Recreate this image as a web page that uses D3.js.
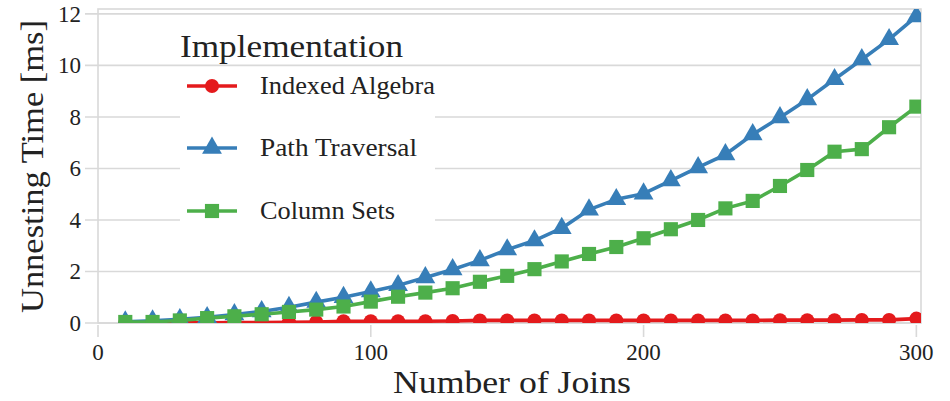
<!DOCTYPE html>
<html>
  <head>
    <!-- load the d3 javascript library -->
    <script src="https://d3js.org/d3.v7.min.js"></script>
    <style>
      body { margin: 0; background: #fff; }
      text { font-family: "Liberation Serif", "DejaVu Serif", serif; fill: #222; }
    </style>
  </head>
  <body>
    <script>

    // number of joins (x values)
    var joins = [10, 20, 30, 40, 50, 60, 70, 80, 90, 100,
                 110, 120, 130, 140, 150, 160, 170, 180, 190, 200,
                 210, 220, 230, 240, 250, 260, 270, 280, 290, 300];

    // unnesting time in ms
    var indexedAlgebra = [0.01, 0.01, 0.01, 0.01, 0.02, 0.02, 0.03, 0.04, 0.07, 0.07,
                          0.07, 0.07, 0.08, 0.1, 0.1, 0.1, 0.1, 0.1, 0.1, 0.1,
                          0.1, 0.1, 0.1, 0.1, 0.11, 0.11, 0.11, 0.12, 0.12, 0.17];
    var pathTraversal = [0.05, 0.09, 0.14, 0.22, 0.33, 0.45, 0.61, 0.81, 1.0, 1.22,
                         1.46, 1.77, 2.08, 2.43, 2.85, 3.2, 3.68, 4.4, 4.8, 5.02,
                         5.53, 6.04, 6.54, 7.32, 7.98, 8.68, 9.46, 10.23, 11.01, 11.9];
    var columnSets = [0.04, 0.04, 0.1, 0.19, 0.26, 0.34, 0.43, 0.52, 0.64, 0.83,
                      1.02, 1.18, 1.35, 1.6, 1.83, 2.09, 2.39, 2.68, 2.95, 3.29,
                      3.64, 4.0, 4.45, 4.74, 5.32, 5.94, 6.65, 6.75, 7.6, 8.4];

    var seriesNames = ["Indexed Algebra", "Path Traversal", "Column Sets"];
    var xTicks = [0, 100, 200, 300];
    var yTicks = [0, 2, 4, 6, 8, 10, 12];

    // svg size and plot area
    var w = 950;
    var h = 401;
    var plotLeft = 98, plotRight = 921, plotTop = 9, plotBottom = 323;

    var colors = ["#e41a1c", "#377eb8", "#4daf4a"];
    var symbols = [d3.symbolCircle, d3.symbolTriangle, d3.symbolSquare];
    var symbolSizes = [155, 170, 200];
    var allValues = [indexedAlgebra, pathTraversal, columnSets];

    var xScale = d3.scaleLinear().domain([0, 301.7]).range([plotLeft, plotRight]);
    var yScale = d3.scaleLinear().domain([0, 12.19]).range([plotBottom, plotTop]);

    var svg = d3.select("body")
      .append("svg")
      .attr("width", w)
      .attr("height", h);

    var gridColor = "#d9d9d9";

    // horizontal grid lines (they run a bit past the left spine, like ticks)
    svg.selectAll("line.grid")
      .data(yTicks)
      .enter()
      .append("line")
      .attr("class", "grid")
      .attr("x1", plotLeft - 13)
      .attr("x2", plotRight)
      .attr("y1", function(d) { return yScale(d); })
      .attr("y2", function(d) { return yScale(d); })
      .attr("stroke", gridColor)
      .attr("stroke-width", 1.6);

    // spines
    svg.append("rect")
      .attr("x", plotLeft)
      .attr("y", plotTop)
      .attr("width", plotRight - plotLeft)
      .attr("height", plotBottom - plotTop)
      .attr("fill", "none")
      .attr("stroke", gridColor)
      .attr("stroke-width", 1.6);

    // x ticks below the axis
    svg.selectAll("line.xtick")
      .data(xTicks)
      .enter()
      .append("line")
      .attr("class", "xtick")
      .attr("x1", function(d) { return xScale(d); })
      .attr("x2", function(d) { return xScale(d); })
      .attr("y1", plotBottom + 2)
      .attr("y2", plotBottom + 14)
      .attr("stroke", gridColor)
      .attr("stroke-width", 1.6);

    // tick labels
    svg.selectAll("text.xlab")
      .data(xTicks)
      .enter()
      .append("text")
      .attr("class", "xlab")
      .text(function(d) { return d; })
      .attr("x", function(d) { return xScale(d); })
      .attr("y", 360)
      .attr("text-anchor", "middle")
      .attr("font-size", "23px");

    svg.selectAll("text.ylab")
      .data(yTicks)
      .enter()
      .append("text")
      .attr("class", "ylab")
      .text(function(d) { return d; })
      .attr("x", 81)
      .attr("y", function(d) { return yScale(d) + 8; })
      .attr("text-anchor", "end")
      .attr("font-size", "23px");

    // axis titles (stretched a little, the original font is wider)
    svg.append("text")
      .text("Number of Joins")
      .attr("x", 393)
      .attr("y", 393)
      .attr("font-size", "32px")
      .attr("textLength", 238)
      .attr("lengthAdjust", "spacingAndGlyphs");

    svg.append("text")
      .text("Unnesting Time [ms]")
      .attr("transform", "translate(43,313) rotate(-90)")
      .attr("font-size", "32px")
      .attr("textLength", 293)
      .attr("lengthAdjust", "spacingAndGlyphs");

    // legend background (hides grid lines)
    svg.append("rect")
      .attr("x", 180)
      .attr("y", 71)
      .attr("width", 255)
      .attr("height", 168)
      .attr("fill", "#fff");

    // clip the data to the plot area
    svg.append("clipPath")
      .attr("id", "plotclip")
      .append("rect")
      .attr("x", plotLeft)
      .attr("y", plotTop)
      .attr("width", plotRight - plotLeft)
      .attr("height", plotBottom - plotTop);

    var plot = svg.append("g").attr("clip-path", "url(#plotclip)");

    var line = d3.line()
      .x(function(d) { return xScale(d[0]); })
      .y(function(d) { return yScale(d[1]); });

    allValues.forEach(function(vals, k) {
      var pts = joins.map(function(x, i) { return [x, vals[i]]; });
      var g = plot.append("g");
      g.append("path")
        .attr("d", line(pts))
        .attr("fill", "none")
        .attr("stroke", colors[k])
        .attr("stroke-width", 3.6)
        .attr("stroke-linejoin", "round");
      g.selectAll("path.mark")
        .data(pts)
        .enter()
        .append("path")
        .attr("class", "mark")
        .attr("d", d3.symbol().type(symbols[k]).size(symbolSizes[k]))
        .attr("transform", function(d) {
          return "translate(" + xScale(d[0]) + "," + yScale(d[1]) + ")";
        })
        .attr("fill", colors[k]);
    });

    // legend
    svg.append("text")
      .text("Implementation")
      .attr("x", 180)
      .attr("y", 57)
      .attr("font-size", "32px")
      .attr("textLength", 223)
      .attr("lengthAdjust", "spacingAndGlyphs");

    var legendY = [86, 148, 211];
    var legendWidths = [175, 157, 135];
    seriesNames.forEach(function(name, k) {
      svg.append("line")
        .attr("x1", 187)
        .attr("x2", 237)
        .attr("y1", legendY[k])
        .attr("y2", legendY[k])
        .attr("stroke", colors[k])
        .attr("stroke-width", 3.6);
      svg.append("path")
        .attr("d", d3.symbol().type(symbols[k]).size(symbolSizes[k])())
        .attr("transform", "translate(212," + legendY[k] + ")")
        .attr("fill", colors[k]);
      svg.append("text")
        .text(name)
        .attr("x", 260)
        .attr("y", legendY[k] + 8)
        .attr("font-size", "25px")
        .attr("textLength", legendWidths[k])
        .attr("lengthAdjust", "spacingAndGlyphs");
    });

    </script>
  </body>
</html>
